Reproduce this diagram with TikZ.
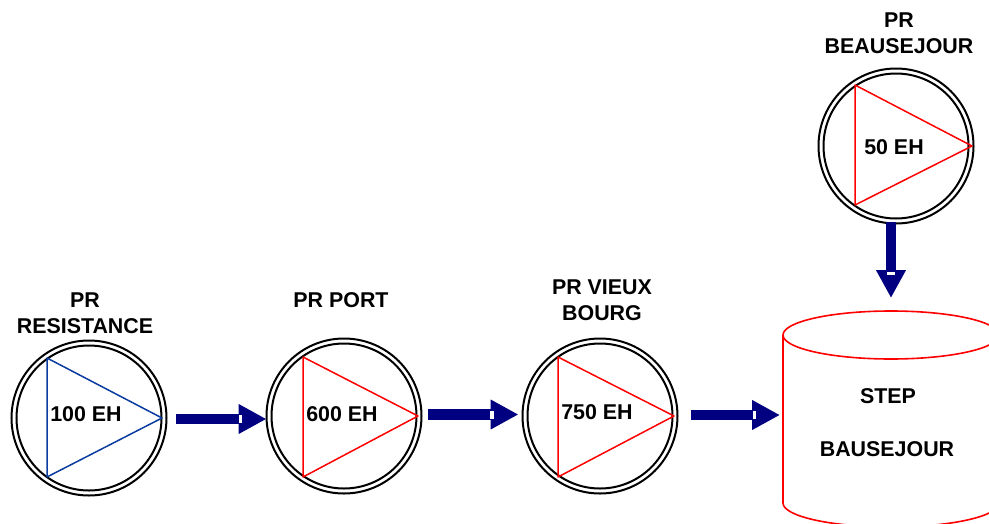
\documentclass[tikz,border=0pt]{standalone}
\usepackage{fontspec}
\setmainfont{Liberation Sans}
\usetikzlibrary{arrows.meta}
\definecolor{flownavy}{RGB}{0,0,128}
\definecolor{tribluecol}{RGB}{10,60,160}
\definecolor{stepred}{RGB}{255,0,0}
\tikzset{
  outerring/.style={circle,draw=black,line width=2pt,minimum size=155pt,inner sep=0pt,outer sep=0pt},
  innerring/.style={circle,draw=black,line width=2pt,minimum size=145pt,inner sep=0pt,outer sep=0pt},
  tri/.style={line width=1.5pt,line join=round},
  lbl/.style={font=\fontsize{21.4}{26}\selectfont\bfseries,align=center,inner sep=0pt,text=black},
  flow/.style={draw=flownavy,line width=10.5pt,-{Triangle[length=28pt,width=28pt,fill=flownavy]}},
  flowmark/.style={fill=white,draw=none},
  stepline/.style={draw=stepred,line width=1.6pt}
}
\begin{document}
\begin{tikzpicture}[x=1pt,y=-1pt]
\useasboundingbox (0,0) rectangle (989,523);
% pumping stations
\node[outerring] (res) at (89,418) {};
\node[innerring] (resi) at (res) {};
\node[outerring] (port) at (344,416) {};
\node[innerring] (porti) at (port) {};
\node[outerring] (vieux) at (600,416) {};
\node[innerring] (vieuxi) at (vieux) {};
\node[outerring] (beau) at (896,146) {};
\node[innerring] (beaui) at (beau) {};
% triangles
\draw[tri,tribluecol] (47,358) -- (162,418) -- (47,477) -- cycle;
\draw[tri,stepred] (303,357) -- (418,416) -- (303,477) -- cycle;
\draw[tri,stepred] (558,357) -- (674,416) -- (558,477) -- cycle;
\draw[tri,stepred] (855,85) -- (972,146) -- (855,205) -- cycle;
% tank
\begin{scope}
\clip (0,0) rectangle (989,523);
\draw[stepline] (891,335) ellipse [x radius=108,y radius=24];
\draw[stepline] (783,335) -- (783,503) arc [start angle=180,end angle=0,x radius=108,y radius=24] -- (999,335);
\end{scope}
\node[minimum width=216pt,minimum height=168pt,inner sep=0pt,outer sep=0pt] (step) at (891,419) {};
% labels
\node[lbl] (t1) at (85,313.5) {PR\\RESISTANCE};
\node[lbl] (t2) at (341,300) {PR PORT};
\node[lbl] (t3) at (602,300) {PR VIEUX\\BOURG};
\node[lbl] (t4) at (899,33) {PR\\BEAUSEJOUR};
\node[lbl] (v1) at (86,414) {100 EH};
\node[lbl] (v2) at (342,414) {600 EH};
\node[lbl] (v3) at (597,412) {750 EH};
\node[lbl] (v4) at (894,147) {50 EH};
\node[lbl] (s1) at (888,396) {STEP};
\node[lbl] (s2) at (887,449) {BAUSEJOUR};
% connectors
\coordinate (a1) at (176,419);
\coordinate (a2) at (428,414.5);
\coordinate (a3) at (691,415);
\draw[flow] (a1) -- (port.west |- a1);
\draw[flow,shorten >=4pt] (a2) -- (vieux.west |- a2);
\draw[flow,shorten >=3pt] (a3) -- (step.west |- a3);
\coordinate (a4) at (891,222);
\draw[flow] (a4) -- (a4 |- 0,298);
% small white marks on arrow heads
\fill[flowmark] (238.5,415) rectangle (242,423);
\fill[flowmark] (490,410.5) rectangle (493.5,418.5);
\fill[flowmark] (753,411) rectangle (756,419);
\fill[flowmark] (887,272) rectangle (895,275);
\end{tikzpicture}
\end{document}
